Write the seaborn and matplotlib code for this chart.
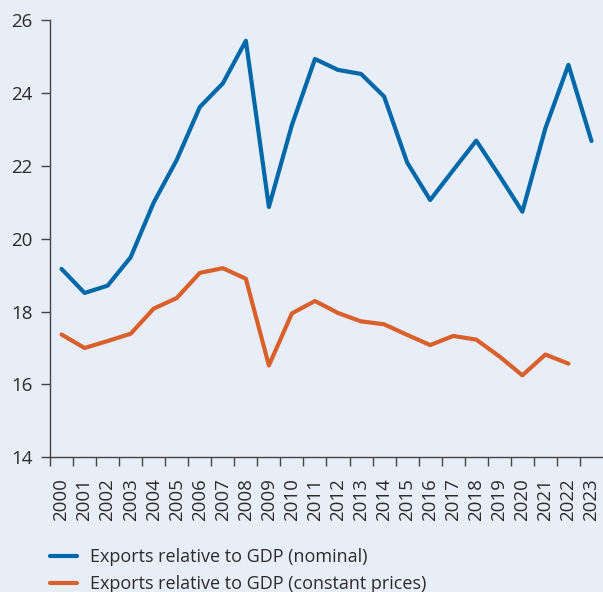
import matplotlib
matplotlib.use("Agg")
import matplotlib.pyplot as plt
import numpy as np
import pandas as pd
import seaborn as sns

years = list(range(2000, 2024))
nominal = [19.17, 18.51, 18.71, 19.49, 20.99, 22.16, 23.61, 24.26, 25.43, 20.87,
           23.12, 24.93, 24.63, 24.52, 23.90, 22.09, 21.06, 21.88, 22.69, 21.73,
           20.74, 23.03, 24.77, 22.68]
constant = [17.37, 17.00, 17.19, 17.39, 18.08, 18.37, 19.06, 19.19, 18.90, 16.52,
            17.95, 18.29, 17.96, 17.73, 17.65, 17.36, 17.08, 17.33, 17.23, 16.77,
            16.25, 16.82, 16.57, np.nan]
labels = ["Exports relative to GDP (nominal)", "Exports relative to GDP (constant prices)"]
colors = ["#0068a8", "#d9602a"]
yticks = [14, 16, 18, 20, 22, 24, 26]

bg = "#e8eef8"
ink = "#2b2b2b"

sns.set_theme(style="ticks")
plt.rcParams["font.family"] = ["Open Sans", "DejaVu Sans"]

df = pd.DataFrame({"year": years, labels[0]: nominal, labels[1]: constant})

fig = plt.figure(figsize=(6.03, 5.92), dpi=100, facecolor=bg)
ax = fig.add_axes([50 / 603, 1 - 457.3 / 592, 1 - 50 / 603, (457.3 - 20) / 592])
ax.set_facecolor(bg)

for lab, col in zip(labels, colors):
    sns.lineplot(data=df, x="year", y=lab, color=col, linewidth=3.0, label=lab,
                 ax=ax, legend=False)

ax.set_xlim(years[0] - 0.5, years[-1] + 0.5)
ax.set_ylim(14, 26)
ax.set_yticks(yticks)
ax.set_xticks(years)
ax.set_xticklabels([str(y) for y in years], rotation=90)
ax.set_xticks([y - 0.5 for y in years], minor=True)
ax.tick_params(axis="x", which="major", length=0, pad=15, labelsize=13.5, colors=ink)
ax.tick_params(axis="x", which="minor", length=6.5, width=1.0, color="#444444")
ax.tick_params(axis="y", length=6.5, width=1.0, pad=6, labelsize=13.5, colors=ink,
               color="#444444")
ax.set_xlabel("")
ax.set_ylabel("")
sns.despine(ax=ax)
for s in ["left", "bottom"]:
    ax.spines[s].set_color("#444444")
    ax.spines[s].set_linewidth(1.0)

handles = ax.get_lines()[:2]
fig.legend(handles, labels, loc="upper left", bbox_to_anchor=(45 / 603, 1 - 543 / 592),
           frameon=False, fontsize=13, handlelength=1.5, handletextpad=0.7,
           labelspacing=0.5, labelcolor=ink, borderaxespad=0, borderpad=0.3)

fig.savefig("out.png", dpi=100, facecolor=bg)
